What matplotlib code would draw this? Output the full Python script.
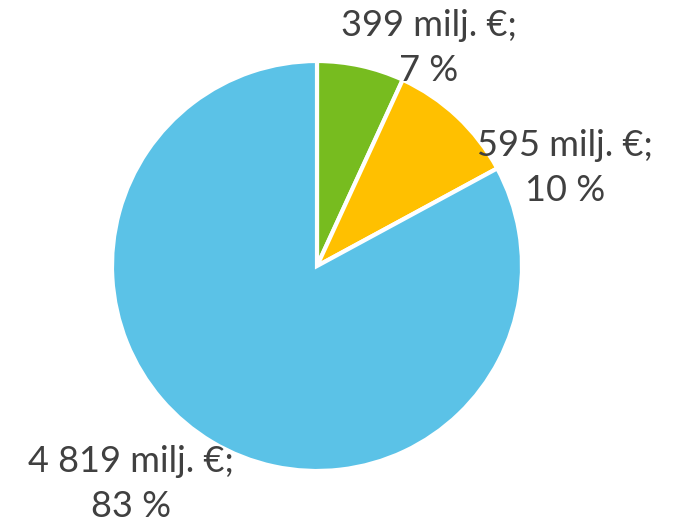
import matplotlib.pyplot as plt

# --- DANE ---
arvot = [399, 595, 4819]
osuudet = [7, 10, 83]
nimet = ['399 milj. €;', '595 milj. €;', '4 819 milj. €;']
varit = ['#77BC1F', '#FFC000', '#5BC2E7']
# -------------

plt.rcParams['font.family'] = ['Lato', 'DejaVu Sans']

fig = plt.figure(figsize=(6.82, 5.28), dpi=100)
ax = fig.add_axes([0, 0, 1, 1])
ax.set_xlim(0, 682)
ax.set_ylim(528, 0)
ax.set_aspect('equal')
ax.axis('off')

# pie in pixel-like data coords (y inverted -> counterclock=True gives clockwise on screen)
ax.pie(arvot, colors=varit, startangle=-90, counterclock=True,
       center=(317, 266), radius=205,
       wedgeprops=dict(edgecolor='white', linewidth=3))
ax.set_xlim(0, 682)
ax.set_ylim(528, 0)

# etykiety
paikat = [(429, 48), (565, 168), (131, 484)]
for (x, y), nimi, pros in zip(paikat, nimet, osuudet):
    ax.text(x, y, f'{nimi}\n{pros} %', ha='center', va='center',
            fontsize=26, color='#404040', linespacing=1.45)

fig.savefig('out.png', dpi=100)
